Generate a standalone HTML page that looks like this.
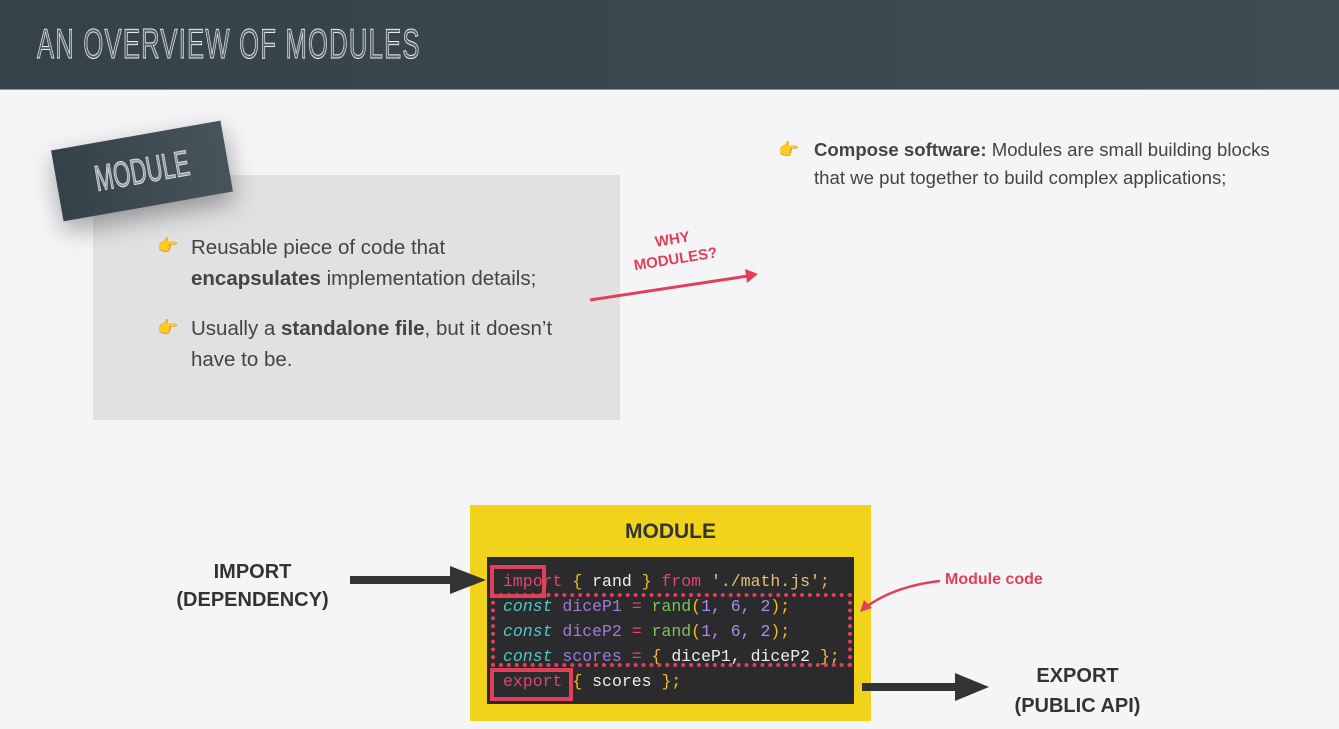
<!DOCTYPE html>
<html><head><meta charset="utf-8"><style>
*{margin:0;padding:0;box-sizing:border-box}
body{width:1339px;height:729px;overflow:hidden;background:#f5f4f7;font-family:"Liberation Sans",sans-serif;position:relative;color:#444}
.hdr{position:absolute;left:0;top:0;width:1339px;height:90px;background:linear-gradient(90deg,#35424a,#3f4c54);border-bottom:1px solid #8a9499}
.ttl{position:absolute;left:37px;top:20px;font-size:42px;letter-spacing:2px;transform:scaleX(0.61);transform-origin:left top;font-family:"Liberation Sans Narrow","Liberation Sans",sans-serif;-webkit-text-stroke:1px #e8ecef;color:#56636b}
.gbox{position:absolute;left:93px;top:175px;width:527px;height:245px;background:#e1e0e3}
.tag{position:absolute;left:56px;top:135px;width:172px;height:72px;background:linear-gradient(90deg,#344149,#47545c);transform:rotate(-10deg);box-shadow:0 10px 25px rgba(0,0,0,.35);color:#8f9aa0;-webkit-text-stroke:1px #e0e0e0;font-size:36px;text-align:center;line-height:72px}
.tag span{display:inline-block;transform:scaleX(.62)}
.t{position:absolute;font-size:20.5px;color:#444;line-height:31px}
.h{position:absolute;color:#f0b020;font-size:17px}
.code{position:absolute;left:487px;top:557px;width:367px;height:147px;background:#2b2a2d;font-family:"Liberation Mono",monospace;font-size:16.5px}
.ln{position:absolute;left:16px;white-space:pre;color:#eee}
.k{color:#e0476a}.c{color:#4ec9c9;font-style:italic}.v{color:#a07ad8}.f{color:#7cc45a}.y{color:#f0c020}.s{color:#e8c070}.n{color:#b08ce8}
</style></head><body>
<div class="hdr"><div class="ttl">AN OVERVIEW OF MODULES</div></div>
<div class="gbox"></div>
<div class="tag"><span>MODULE</span></div>
<div class="h" style="left:157px;top:236px">👉</div>
<div class="t" style="left:191px;top:232px">Reusable piece of code that<br><b>encapsulates</b> implementation details;</div>
<div class="h" style="left:157px;top:318px">👉</div>
<div class="t" style="left:191px;top:313px">Usually a <b>standalone file</b>, but it doesn’t<br>have to be.</div>
<div class="h" style="left:778px;top:140px">👉</div>
<div class="t" style="left:814px;top:136px;font-size:18.6px;line-height:28px;color:#444"><b>Compose software:</b> Modules are small building blocks<br>that we put together to build complex applications;</div>
<div style="position:absolute;left:632px;top:230px;color:#e0405a;font-weight:bold;font-size:15px;line-height:20px;text-align:center;transform:rotate(-9deg)">WHY<br>MODULES?</div>
<div style="position:absolute;left:470px;top:505px;width:401px;height:216px;background:#f0d31a"></div>
<div style="position:absolute;left:470px;top:520px;width:401px;text-align:center;font-weight:bold;font-size:21px;color:#333">MODULE</div>
<div class="code">
<div class="ln" style="top:15px"><span class="k">import</span> <span class="y">{</span> rand <span class="y">}</span> <span class="k">from</span> <span class="s">'./math.js'</span><span class="y">;</span></div>
<div class="ln" style="top:40px"><span class="c">const</span> <span class="v">diceP1</span> <span class="k">=</span> <span class="f">rand</span><span class="y">(</span><span class="n">1, 6, 2</span><span class="y">);</span></div>
<div class="ln" style="top:65px"><span class="c">const</span> <span class="v">diceP2</span> <span class="k">=</span> <span class="f">rand</span><span class="y">(</span><span class="n">1, 6, 2</span><span class="y">);</span></div>
<div class="ln" style="top:90px"><span class="c">const</span> <span class="v">scores</span> <span class="k">=</span> <span class="y">{</span> diceP1, diceP2 <span class="y">};</span></div>
<div class="ln" style="top:115px"><span class="k">export</span> <span class="y">{</span> scores <span class="y">};</span></div>
</div>
<div style="position:absolute;left:490px;top:565px;width:56px;height:33px;border:4px solid #e0405a"></div>
<div style="position:absolute;left:490px;top:668px;width:83px;height:33px;border:4px solid #e0405a"></div>
<div style="position:absolute;left:491px;top:593px;width:361px;height:74px;border:4px dotted #e0405a"></div>
<div style="position:absolute;left:170px;top:558px;width:165px;text-align:center;font-weight:bold;font-size:20px;line-height:28px;color:#333">IMPORT<br>(DEPENDENCY)</div>
<div style="position:absolute;left:995px;top:661px;width:165px;text-align:center;font-weight:bold;font-size:20px;line-height:30px;color:#333">EXPORT<br>(PUBLIC API)</div>
<div style="position:absolute;left:945px;top:571px;font-weight:bold;font-size:16px;color:#e0405a">Module code</div>
<svg width="1339" height="729" style="position:absolute;left:0;top:0">
<line x1="350" y1="580" x2="455" y2="580" stroke="#333" stroke-width="8"/>
<polygon points="450,566 486,580 450,594" fill="#333"/>
<line x1="862" y1="687" x2="960" y2="687" stroke="#333" stroke-width="8"/>
<polygon points="955,673 989,687 955,701" fill="#333"/>
<line x1="590" y1="300" x2="748" y2="276" stroke="#e0405a" stroke-width="3"/>
<polygon points="745,269 758,274 747,283" fill="#e0405a"/>
<path d="M940,581 Q895,586 866,607" stroke="#e0405a" stroke-width="2.5" fill="none"/>
<polygon points="860,612 864,600 872,608" fill="#e0405a"/>
</svg>
</body></html>
